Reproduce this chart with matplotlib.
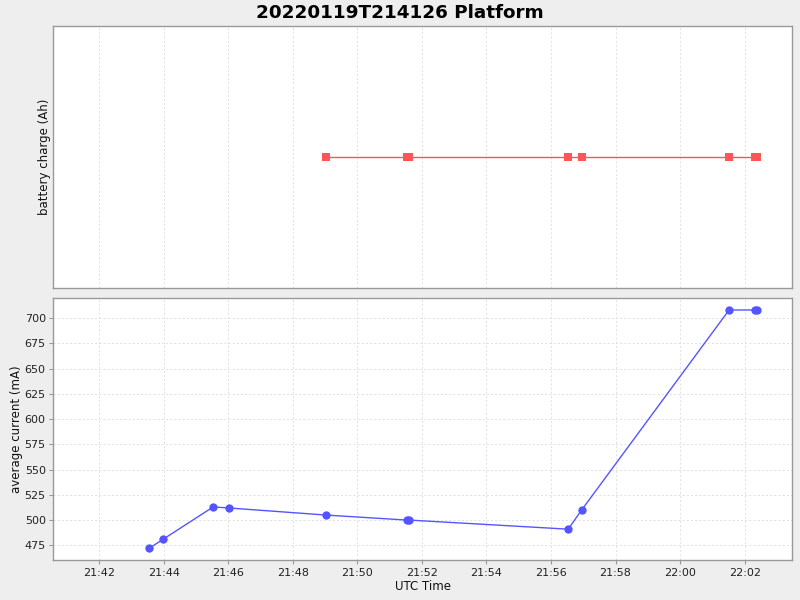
import matplotlib
matplotlib.use("Agg")
import matplotlib.pyplot as plt
import matplotlib.dates as mdates
import pandas as pd

# Data
current_times = ["21:43:33", "21:43:59", "21:45:32", "21:46:01", "21:49:01",
                 "21:51:32", "21:51:37", "21:56:32", "21:56:57", "22:01:31",
                 "22:02:20", "22:02:23"]
current_ma = [472, 481, 513, 512, 505, 500, 500, 491, 510, 708, 708, 708]

charge_times = ["21:49:01", "21:51:32", "21:51:37", "21:56:32", "21:56:57",
                "22:01:31", "22:02:20", "22:02:23"]
charge_ah = [0.0, 0.0, 0.0, 0.0, 0.0, 0.0, 0.0, 0.0]

current_ticks = [475, 500, 525, 550, 575, 600, 625, 650, 675, 700]
title = "20220119T214126 Platform"

day = "2022-01-19 "
ct = pd.to_datetime([day + t for t in current_times])
bt = pd.to_datetime([day + t for t in charge_times])
xmin = pd.Timestamp(day + "21:40:35")
xmax = pd.Timestamp(day + "22:03:28")

fig = plt.figure(figsize=(8, 6), dpi=100, facecolor="#EEEEEE")
ax1 = fig.add_axes([0.0667, 0.52, 0.9233, 0.4367])
ax2 = fig.add_axes([0.0667, 0.0667, 0.9233, 0.436])

grid_kw = dict(color="#DDDDDD", linestyle=(0, (2.5, 2.5)), linewidth=0.6)
for ax in (ax1, ax2):
    ax.set_facecolor("white")
    for s in ax.spines.values():
        s.set_color("#999999")
        s.set_linewidth(1.0)
    ax.set_xlim(xmin, xmax)
    ax.xaxis.set_major_locator(mdates.MinuteLocator(byminute=range(0, 60, 2)))
    ax.xaxis.set_major_formatter(mdates.DateFormatter("%H:%M"))
    ax.grid(True, **grid_kw)
    ax.set_axisbelow(True)
    ax.tick_params(length=3, color="#999999", labelsize=8, labelcolor="#222222",
                   pad=2.5)

ax1.plot(bt, charge_ah, color="#FF5555", linewidth=1.0, marker="s",
         markersize=5.5, markeredgewidth=0)
ax1.set_ylim(-1, 1)
ax1.set_yticks([])
ax1.tick_params(axis="x", labelbottom=False, length=0)
ax1.set_ylabel("battery charge (Ah)", fontsize=8.5, color="#111111", labelpad=1.5)

ax2.plot(ct, current_ma, color="#5555FF", linewidth=1.0, marker="o",
         markersize=6, markeredgewidth=0)
ax2.set_ylim(460.5, 719.5)
ax2.set_yticks(current_ticks)
ax2.set_ylabel("average current (mA)", fontsize=8.5, color="#111111", labelpad=1)
ax2.set_xlabel("UTC Time", fontsize=8.5, color="#111111", labelpad=2)

fig.text(0.5, 0.979, title, ha="center", va="center", fontsize=13.2,
         fontweight="bold")

fig.savefig("out.png", dpi=100, facecolor=fig.get_facecolor())
